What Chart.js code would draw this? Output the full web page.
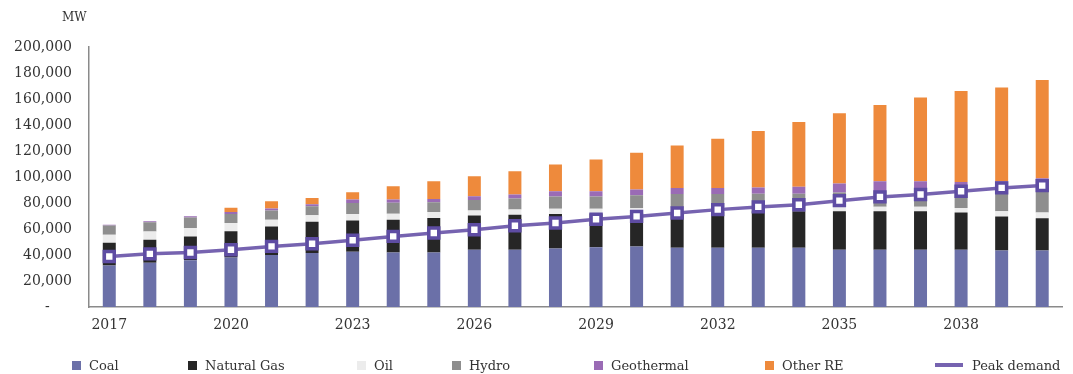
<!DOCTYPE html>
<html>
<head>
<meta charset="utf-8">
<script src="https://cdn.jsdelivr.net/npm/chart.js@4"></script>
<style>
  html, body { margin: 0; padding: 0; background: #fff; }
  #wrap { position: relative; width: 1073px; height: 374px; }
  #chart { position: absolute; left: 0; top: 0; }
  #unit { position: absolute; left: 62px; top: 10px; font: 12px 'DejaVu Serif'; color: #333; }
  .leg { position: absolute; top: 357px; height: 16px; display: flex; align-items: center;
         font: 13px 'DejaVu Serif'; color: #333; white-space: nowrap; }
  .sw { width: 9px; height: 9px; margin-right: 8px; }
  .ln { width: 28px; height: 4px; margin-right: 9px; }
</style>
</head>
<body>
<div id="wrap">
  <canvas id="chart" width="1073" height="374"></canvas>
  <div id="unit">MW</div>
</div>
<script>
// Installed capacity by source and peak demand, MW
const years = ['2017','2018','2019','2020','2021','2022','2023','2024','2025','2026','2027','2028',
               '2029','2030','2031','2032','2033','2034','2035','2036','2037','2038','2039','2040'];

const coal       = [32000,34000,36000,38000,40000,41500,42500,42000,42000,44000,44000,45000,
                    46000,46500,45500,45500,45500,45500,44000,44000,44000,44000,43500,43500];
const naturalGas = [17400,17700,18300,20200,22000,24000,24000,25200,26500,26300,27000,26500,
                    26000,26000,27500,28000,28100,28100,29600,29600,29600,28600,26200,24700];
const oil        = [6200,6400,6500,6400,5200,5000,5000,4500,4500,4000,4000,4000,
                    3500,3500,3500,3500,3500,3500,3500,3500,3500,3500,4000,4500];
const hydro      = [7000,7000,8000,7000,7000,7000,8500,8500,7500,8000,8500,9500,
                    9500,10000,10500,10000,10000,10000,11000,12000,12000,12500,14500,16000];
const geothermal = [700,800,1000,1500,1500,1500,2600,2400,2500,2900,3000,4000,
                    4000,4300,4600,4500,4900,5400,6900,7600,7600,7600,8500,10300];
const otherRE    = [0,0,0,3300,5600,4900,5600,10300,13700,15400,18000,20600,
                    24500,28300,32700,37900,43300,49800,54000,58700,64400,70000,72100,75700];
const peakDemand = [38800,40900,41900,44000,46600,48600,51400,54300,56900,59400,62500,64600,
                    67500,69700,72300,74900,77000,78700,81800,84700,86500,89000,91600,93400];

const yTicks = { min: 0, max: 200000, step: 20000 };

const colors = {
  coal: '#6b70a8', gas: '#262626', oil: '#ececec', hydro: '#8e8e8e',
  geo: '#9a6bb5', other: '#ee8a3c', peak: '#7663b0'
};

const seriesList = [
  { label: 'Coal',        data: coal,       color: colors.coal },
  { label: 'Natural Gas', data: naturalGas, color: colors.gas },
  { label: 'Oil',         data: oil,        color: colors.oil },
  { label: 'Hydro',       data: hydro,      color: colors.hydro },
  { label: 'Geothermal',  data: geothermal, color: colors.geo },
  { label: 'Other RE',    data: otherRE,    color: colors.other }
];

const serif = 'DejaVu Serif';

const datasets = seriesList.map(s => ({
  type: 'bar',
  label: s.label,
  data: s.data,
  backgroundColor: s.color,
  borderWidth: 0,
  barPercentage: 0.4,
  categoryPercentage: 0.8,
  order: 1
}));

datasets.push({
  type: 'line',
  label: 'Peak demand',
  data: peakDemand,
  stack: 'demand',
  borderColor: colors.peak,
  borderWidth: 3.5,
  tension: 0,
  pointStyle: 'rect',
  pointRadius: 7,
  pointBackgroundColor: '#ffffff',
  pointBorderColor: '#5e4ca3',
  pointBorderWidth: 3.5,
  order: 0
});

new Chart(document.getElementById('chart'), {
  data: { labels: years, datasets },
  options: {
    responsive: false,
    animation: false,
    layout: { padding: { left: 0, right: 5, top: 47, bottom: 0 } },
    plugins: { legend: { display: false }, tooltip: { enabled: false } },
    scales: {
      x: {
        stacked: true,
        grid: { display: false, drawTicks: false },
        border: { display: true, color: '#8a8a8a', width: 1.5 },
        ticks: {
          autoSkip: false, maxRotation: 0, padding: 10, color: '#333',
          font: { family: serif, size: 14 },
          callback: (v, i) => (i % 3 === 0 ? years[i] : '')
        },
        afterFit: s => { s.height = 67; }
      },
      y: {
        stacked: true,
        min: yTicks.min, max: yTicks.max,
        grid: { display: false, drawTicks: false },
        border: { display: true, color: '#8a8a8a', width: 1.5 },
        ticks: {
          stepSize: yTicks.step, padding: 17, color: '#333',
          font: { family: serif, size: 14 },
          callback: v => (v === 0 ? '-     ' : v.toLocaleString('en-US'))
        },
        afterFit: s => { s.width = 89; }
      }
    }
  }
});

// Legend row below the plot
const legendLeft = [72, 188, 357, 452, 594, 765, 935];
const wrap = document.getElementById('wrap');
seriesList.concat([{ label: 'Peak demand', color: colors.peak, line: true }]).forEach((s, i) => {
  const item = document.createElement('div');
  item.className = 'leg';
  item.style.left = legendLeft[i] + 'px';
  const mark = document.createElement('span');
  mark.className = s.line ? 'ln' : 'sw';
  mark.style.background = s.color;
  const txt = document.createElement('span');
  txt.textContent = s.label;
  item.appendChild(mark);
  item.appendChild(txt);
  wrap.appendChild(item);
});
</script>
</body>
</html>
